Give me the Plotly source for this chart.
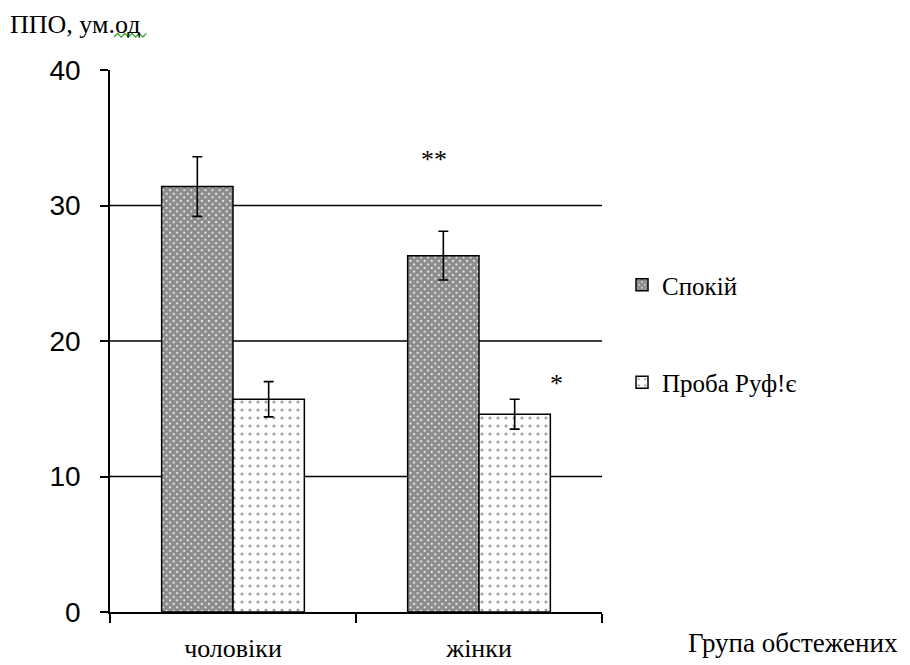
import plotly.graph_objects as go

# Group labels and series values (ППО, ум.од)
groups = ["чоловіки", "жінки"]
rest_vals = [31.4, 26.3]
rest_err = [2.2, 1.8]
ruffier_vals = [15.7, 14.6]
ruffier_err = [1.3, 1.1]
y_ticks = [0, 10, 20, 30, 40]
grid_levels = [10, 20, 30]

SERIF = "Liberation Serif"
SANS = "Liberation Sans"

# plot-area geometry in pixels (used to place free-floating decorations)
L, R, T, B = 110, 308, 70, 53
W, H = 910, 665
PW, PH = W - L - R, H - T - B


def px(xp):
    return (xp - L) / PW


def py(yp):
    return (H - B - yp) / PH


fig = go.Figure()

fig.add_trace(go.Bar(
    name="Спокій", x=groups, y=rest_vals, legendgroup="a",
    marker=dict(color="white", line=dict(color="black", width=1.5),
                pattern=dict(shape="x", size=5, solidity=0.86,
                             fgcolor="#262626", bgcolor="#f2f2f2")),
    error_y=dict(type="data", array=rest_err, color="black",
                 thickness=1.6, width=5),
))
fig.add_trace(go.Bar(
    name="Проба Руф!є", x=groups, y=ruffier_vals, legendgroup="b",
    marker=dict(color="white", line=dict(color="black", width=1.5),
                pattern=dict(shape=".", size=8, solidity=0.12,
                             fgcolor="#444444", bgcolor="white")),
    error_y=dict(type="data", array=ruffier_err, color="black",
                 thickness=1.6, width=5),
))

# horizontal reference lines (none at the top of the range)
for lvl in grid_levels:
    fig.add_shape(type="line", xref="paper", yref="y", x0=0, x1=1,
                  y0=lvl, y1=lvl, line=dict(color="black", width=1.5),
                  layer="below")

# significance marks
fig.add_annotation(x="жінки", y=33.4, text="**", showarrow=False,
                   xshift=-45, font=dict(family=SERIF, size=26, color="black"))
fig.add_annotation(x="жінки", y=16.9, text="*", showarrow=False,
                   xshift=77, font=dict(family=SERIF, size=26, color="black"))

# axis captions
fig.add_annotation(xref="paper", yref="paper", x=px(8), y=py(24),
                   xanchor="left", yanchor="middle", text="ППО, ум.од",
                   showarrow=False, font=dict(family=SERIF, size=26, color="black"))
fig.add_annotation(xref="paper", yref="paper", x=px(793), y=py(643),
                   xanchor="center", yanchor="middle", text="Група обстежених",
                   showarrow=False, font=dict(family=SERIF, size=27, color="black"))

# green wavy underline beneath "од"
pts = []
for i in range(10):
    xx = 114 + i * 3.6
    yy = 37 if i % 2 == 0 else 33.5
    pts.append(f"{px(xx):.5f},{py(yy):.5f}")
fig.add_shape(type="path", xref="paper", yref="paper",
              path="M " + " L ".join(pts),
              line=dict(color="#3aa63a", width=1.3))

fig.update_layout(
    width=W, height=H,
    margin=dict(l=L, r=R, t=T, b=B, autoexpand=False),
    paper_bgcolor="white", plot_bgcolor="white",
    barmode="group", bargap=0.42, bargroupgap=0,
    showlegend=True,
    legend=dict(x=px(622), y=py(262), xanchor="left", yanchor="top",
                font=dict(family=SERIF, size=25, color="black"),
                tracegroupgap=62, itemwidth=30, bgcolor="rgba(0,0,0,0)"),
    xaxis=dict(showline=True, linecolor="black", linewidth=1.5,
               ticks="outside", tickson="boundaries", ticklen=9,
               tickcolor="black", tickwidth=1.5, showgrid=False,
               automargin=False,
               tickfont=dict(family=SERIF, size=26, color="black"),
               ticklabelstandoff=12),
    yaxis=dict(range=[0, 40], tickvals=y_ticks, showline=True,
               linecolor="black", linewidth=1.5, ticks="outside",
               ticklen=8, tickcolor="black", tickwidth=1.5,
               showgrid=False, zeroline=False, automargin=False,
               tickfont=dict(family=SANS, size=28, color="black"),
               ticklabelstandoff=14),
)

fig.write_html("out.html")
